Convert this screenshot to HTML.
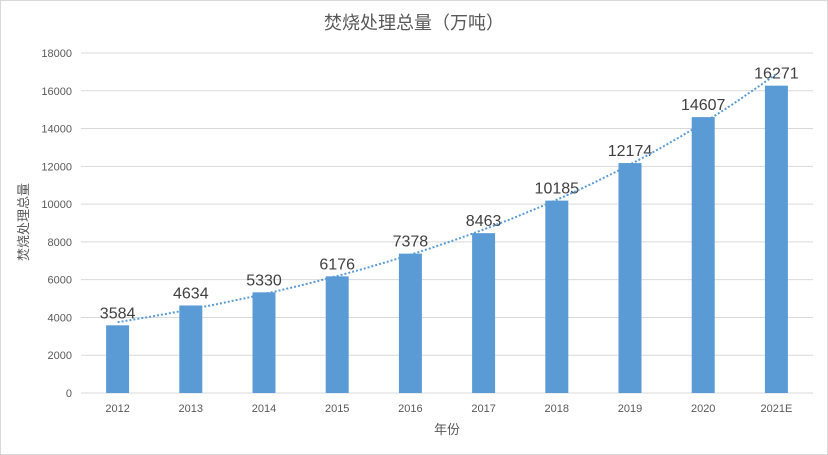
<!DOCTYPE html>
<html><head><meta charset="utf-8"><style>
html,body{margin:0;padding:0;background:#fff;}
svg{display:block;}
</style></head><body>
<svg id="c" width="828" height="455" viewBox="0 0 828 455" xmlns="http://www.w3.org/2000/svg" font-family="Liberation Sans, Noto Sans CJK SC, sans-serif">
<rect x="0.5" y="0.5" width="827" height="454" fill="#fff" stroke="#d9d9d9"/>
<text x="414" y="29" text-anchor="middle" font-size="18" fill="#595959">焚烧处理总量（万吨）</text>
<g id="g"></g>
<text transform="translate(28,222) rotate(-90)" text-anchor="middle" font-size="13" fill="#595959">焚烧处理总量</text>
<text x="447" y="434" text-anchor="middle" font-size="13" fill="#595959">年份</text>
</svg>
<script>
var g=document.getElementById('g'),s='';
function y(v){return 393-v*340/18000;}
for(var v=0;v<=18000;v+=2000){var yy=y(v);
s+='<line x1="81" x2="813" y1="'+yy+'" y2="'+yy+'" stroke="#d9d9d9" stroke-width="1"/>';
s+='<text x="72" y="'+(yy+4)+'" text-anchor="end" font-size="11" fill="#595959">'+v+'</text>';}
var d=[3584,4634,5330,6176,7378,8463,10185,12174,14607,16271],L=['2012','2013','2014','2015','2016','2017','2018','2019','2020','2021E'];
for(var i=0;i<10;i++){var cx=81+73.2*(i+0.5),t=y(d[i]);
s+='<rect x="'+(cx-11.5)+'" y="'+t+'" width="23" height="'+(393-t)+'" fill="#5b9bd5"/>';
s+='<text x="'+cx+'" y="'+(t-7)+'" text-anchor="middle" font-size="16" fill="#404040">'+d[i]+'</text>';
s+='<text x="'+cx+'" y="412" text-anchor="middle" font-size="11" fill="#595959">'+L[i]+'</text>';}
var p='';for(var k=0;k<=90;k++){var f=k/10,cx=81+73.2*(f+0.5),v=3750*Math.pow(16900/3750,f/9);p+=(k?'L':'M')+cx.toFixed(1)+','+y(v).toFixed(1);}
s+='<path d="'+p+'" fill="none" stroke="#5b9bd5" stroke-width="2" stroke-dasharray="2,2"/>';
g.innerHTML=s;
</script>
</body></html>
